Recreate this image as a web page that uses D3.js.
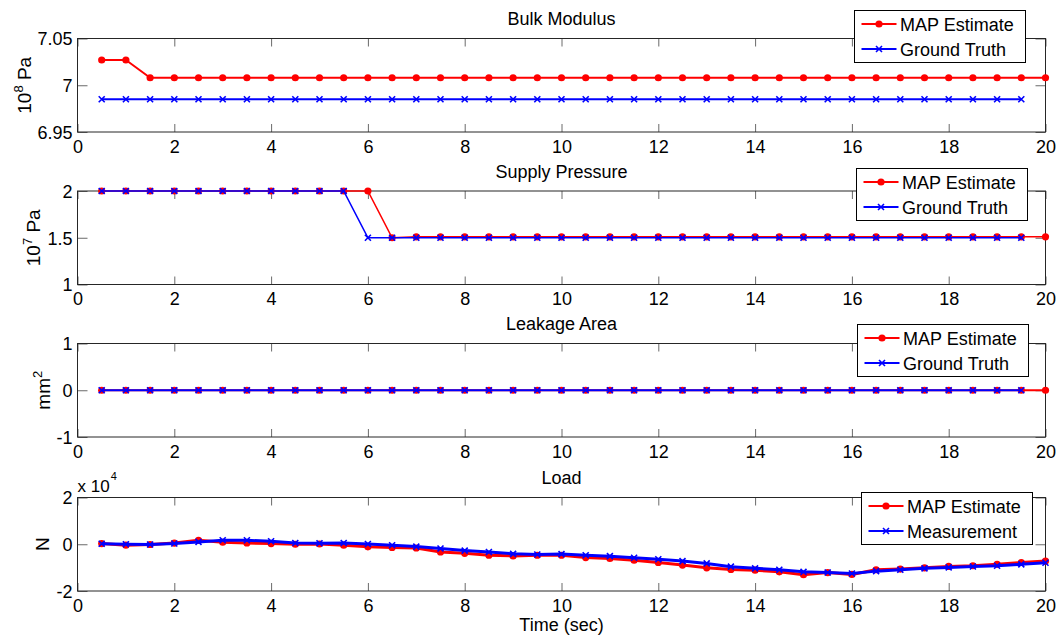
<!DOCTYPE html>
<html>
<head>
<meta charset="utf-8">
<script src="https://cdn.jsdelivr.net/npm/d3@7"></script>
<style>
  html, body { margin: 0; padding: 0; background: #fff; }
  svg { display: block; font-family: Arial, "Liberation Sans", sans-serif; }
</style>
</head>
<body>
<svg id="chart" width="1060" height="639"></svg>
<script>
// Sample times (sec)
const timeAll = [0.5,1,1.5,2,2.5,3,3.5,4,4.5,5,5.5,6,6.5,7,7.5,8,8.5,9,9.5,10,
                 10.5,11,11.5,12,12.5,13,13.5,14,14.5,15,15.5,16,16.5,17,17.5,18,18.5,19,19.5,20];
const timeTruth = timeAll.slice(0, 39); // ground truth ends at 19.5 s

// Bulk modulus (10^8 Pa)
const bulkMap = [7.027,7.027,7.008,7.008,7.008,7.008,7.008,7.008,7.008,7.008,
                 7.008,7.008,7.008,7.008,7.008,7.008,7.008,7.008,7.008,7.008,
                 7.008,7.008,7.008,7.008,7.008,7.008,7.008,7.008,7.008,7.008,
                 7.008,7.008,7.008,7.008,7.008,7.008,7.008,7.008,7.008,7.008];
const bulkTruth = [6.985,6.985,6.985,6.985,6.985,6.985,6.985,6.985,6.985,6.985,
                   6.985,6.985,6.985,6.985,6.985,6.985,6.985,6.985,6.985,6.985,
                   6.985,6.985,6.985,6.985,6.985,6.985,6.985,6.985,6.985,6.985,
                   6.985,6.985,6.985,6.985,6.985,6.985,6.985,6.985,6.985];

// Supply pressure (10^7 Pa)
const supplyMap = [2,2,2,2,2,2,2,2,2,2,2,2,1.5,1.51,1.51,1.51,1.51,1.51,1.51,1.51,
                   1.51,1.51,1.51,1.51,1.51,1.51,1.51,1.51,1.51,1.51,
                   1.51,1.51,1.51,1.51,1.51,1.51,1.51,1.51,1.51,1.51];
const supplyTruth = [2,2,2,2,2,2,2,2,2,2,2,1.5,1.5,1.5,1.5,1.5,1.5,1.5,1.5,1.5,
                     1.5,1.5,1.5,1.5,1.5,1.5,1.5,1.5,1.5,1.5,
                     1.5,1.5,1.5,1.5,1.5,1.5,1.5,1.5,1.5];

// Leakage area (mm^2)
const leakMap = [0,0,0,0,0,0,0,0,0,0,0,0,0,0,0,0,0,0,0,0,
                 0,0,0,0,0,0,0,0,0,0,0,0,0,0,0,0,0,0,0,0];
const leakTruth = [0,0,0,0,0,0,0,0,0,0,0,0,0,0,0,0,0,0,0,0,
                   0,0,0,0,0,0,0,0,0,0,0,0,0,0,0,0,0,0,0];

// Load (N)
const loadMap = [300,-400,-100,500,1700,850,550,300,0,100,
                 -400,-1100,-1400,-1600,-3300,-3900,-4700,-5000,-4700,-4700,
                 -5700,-6100,-6800,-7800,-8900,-10100,-10800,-11100,-11800,-13000,
                 -12100,-12900,-10900,-10600,-10100,-9500,-9200,-8600,-7800,-7200];
const loadMeas = [200,0,-100,300,1000,1700,1700,1300,550,450,
                  550,130,-430,-1000,-1800,-2700,-3300,-4100,-4400,-4200,
                  -4700,-5100,-5800,-6400,-7200,-8200,-9600,-10300,-10900,-11800,
                  -12100,-12500,-11500,-10900,-10300,-9900,-9500,-9200,-8600,-7900];

const xTicks = [0,2,4,6,8,10,12,14,16,18,20];

const panels = [
  { title: "Bulk Modulus", yDomain: [6.95, 7.05], yTicks: [6.95, 7, 7.05],
    fmt: d => String(d), ylab: ["10", "8", " Pa"], ylabX: 30.5,
    red: bulkMap, redT: timeAll, blue: bulkTruth, blueT: timeTruth,
    names: ["MAP Estimate", "Ground Truth"], lw: 2,
    legend: { x: 854.5, y: 10.5, w: 171, h: 52 } },
  { title: "Supply Pressure", yDomain: [1, 2], yTicks: [1, 1.5, 2],
    fmt: d => String(d), ylab: ["10", "7", " Pa"], ylabX: 40,
    red: supplyMap, redT: timeAll, blue: supplyTruth, blueT: timeTruth,
    names: ["MAP Estimate", "Ground Truth"], lw: 1.6,
    legend: { x: 856.5, y: 168.5, w: 171, h: 52 } },
  { title: "Leakage Area", yDomain: [-1, 1], yTicks: [-1, 0, 1],
    fmt: d => String(d), ylab: ["mm", "2", ""], ylabX: 50,
    red: leakMap, redT: timeAll, blue: leakTruth, blueT: timeTruth,
    names: ["MAP Estimate", "Ground Truth"], lw: 2,
    legend: { x: 857.5, y: 324.5, w: 171, h: 52 } },
  { title: "Load", yDomain: [-20000, 20000], yTicks: [-20000, 0, 20000],
    fmt: d => String(d / 10000), ylab: ["N", "", ""], ylabX: 48.5,
    red: loadMap, redT: timeAll, blue: loadMeas, blueT: timeAll,
    names: ["MAP Estimate", "Measurement"], lw: 3, expo: true,
    legend: { x: 861.5, y: 492.5, w: 171, h: 52 } }
];

const svg = d3.select("#chart");
const left = 77.5, right = 1045.5;
const tops = [38.5, 191, 343.5, 497.5];
const plotH = 93.5;
const RED = "#ff0000", BLUE = "#0000ff";
const FONT = 18;

const x = d3.scaleLinear().domain([0, 20]).range([left, right]);

function drawX(g, cx, cy, col) {
  g.append("path")
    .attr("d", `M${cx - 3},${cy - 3}L${cx + 3},${cy + 3}M${cx - 3},${cy + 3}L${cx + 3},${cy - 3}`)
    .attr("stroke", col).attr("stroke-width", 1.6).attr("fill", "none");
}

panels.forEach((p, i) => {
  const top = tops[i], bottom = top + plotH;
  const y = d3.scaleLinear().domain(p.yDomain).range([bottom, top]);
  const g = svg.append("g");

  // white plot background
  g.append("rect").attr("x", left).attr("y", top)
    .attr("width", right - left).attr("height", plotH)
    .attr("fill", "#fff").attr("stroke", "none");

  // inward ticks on all four sides
  const axB = g.append("g").attr("transform", `translate(0,${bottom})`)
    .call(d3.axisBottom(x).tickValues(xTicks).tickSize(-8).tickPadding(10).tickFormat(d => String(d)));
  const axT = g.append("g").attr("transform", `translate(0,${top})`)
    .call(d3.axisTop(x).tickValues(xTicks).tickSize(-8).tickFormat(""));
  const axL = g.append("g").attr("transform", `translate(${left},0)`)
    .call(d3.axisLeft(y).tickValues(p.yTicks).tickSize(-10).tickPadding(5).tickFormat(p.fmt));
  const axR = g.append("g").attr("transform", `translate(${right},0)`)
    .call(d3.axisRight(y).tickValues(p.yTicks).tickSize(-10).tickFormat(""));
  [axB, axT, axL, axR].forEach(a => {
    a.select(".domain").remove();
    a.selectAll(".tick line").attr("stroke", "#6a6a6a").attr("stroke-width", 1);
    a.selectAll(".tick text").attr("fill", "#000").attr("font-size", FONT)
      .attr("font-family", "Arial, 'Liberation Sans', sans-serif");
  });
  axT.selectAll(".tick text").remove();
  axR.selectAll(".tick text").remove();
  axB.selectAll(".tick text").attr("dy", null).attr("y", 20.5);
  axL.selectAll(".tick text").attr("dy", "0.36em").attr("x", -5);

  // frame
  g.append("rect").attr("x", left).attr("y", top)
    .attr("width", right - left).attr("height", plotH)
    .attr("fill", "none").attr("stroke", "#262626").attr("stroke-width", 1);

  // title
  g.append("text").attr("x", (left + right) / 2).attr("y", top - 13.5)
    .attr("text-anchor", "middle").attr("font-size", FONT).attr("fill", "#000")
    .text(p.title);

  // y label with superscript
  const cy = (top + bottom) / 2;
  const yl = g.append("text")
    .attr("transform", `translate(${p.ylabX},${cy}) rotate(-90)`)
    .attr("text-anchor", "middle").attr("font-size", 19).attr("fill", "#000");
  yl.append("tspan").text(p.ylab[0]);
  if (p.ylab[1]) {
    yl.append("tspan").attr("font-size", 13).attr("dy", -8).text(p.ylab[1]);
    if (p.ylab[2]) yl.append("tspan").attr("dy", 8).text(p.ylab[2]);
  }

  if (p.expo) {
    const ex = g.append("text").attr("x", left).attr("y", top - 6)
      .attr("font-size", 17).attr("fill", "#000");
    ex.append("tspan").text("x 10");
    ex.append("tspan").attr("font-size", 11).attr("dy", -12).attr("dx", 1).text("4");
  }

  // series
  const line = d3.line().x(d => x(d[0])).y(d => y(d[1]));
  const redPts = p.redT.map((t, k) => [t, p.red[k]]);
  const bluePts = p.blueT.map((t, k) => [t, p.blue[k]]);

  g.append("path").datum(redPts).attr("d", line)
    .attr("fill", "none").attr("stroke", RED).attr("stroke-width", p.lw)
    .attr("stroke-linejoin", "round");
  g.selectAll(null).data(redPts).enter().append("circle")
    .attr("cx", d => x(d[0])).attr("cy", d => y(d[1])).attr("r", 3.6)
    .attr("fill", RED);

  g.append("path").datum(bluePts).attr("d", line)
    .attr("fill", "none").attr("stroke", BLUE).attr("stroke-width", p.lw)
    .attr("stroke-linejoin", "round");
  bluePts.forEach(d => drawX(g, x(d[0]), y(d[1]), BLUE));

  // legend
  const L = p.legend;
  const lg = g.append("g");
  lg.append("rect").attr("x", L.x).attr("y", L.y).attr("width", L.w).attr("height", L.h)
    .attr("fill", "#fff").attr("stroke", "#000").attr("stroke-width", 1);
  const rows = [L.y + 13.5, L.y + 38.5];
  [[RED, p.names[0], "dot"], [BLUE, p.names[1], "x"]].forEach((e, k) => {
    const ry = rows[k];
    lg.append("line").attr("x1", L.x + 7).attr("x2", L.x + 42)
      .attr("y1", ry).attr("y2", ry).attr("stroke", e[0]).attr("stroke-width", 2);
    if (e[2] === "dot") {
      lg.append("circle").attr("cx", L.x + 24.5).attr("cy", ry).attr("r", 3.6).attr("fill", e[0]);
    } else {
      drawX(lg, L.x + 24.5, ry, e[0]);
    }
    lg.append("text").attr("x", L.x + 45.5).attr("y", ry + 6.5)
      .attr("font-size", 18).attr("fill", "#000").text(e[1]);
  });
});

// shared x label
svg.append("text").attr("x", (left + right) / 2).attr("y", 631)
  .attr("text-anchor", "middle").attr("font-size", FONT).attr("fill", "#000")
  .text("Time (sec)");
</script>
</body>
</html>
